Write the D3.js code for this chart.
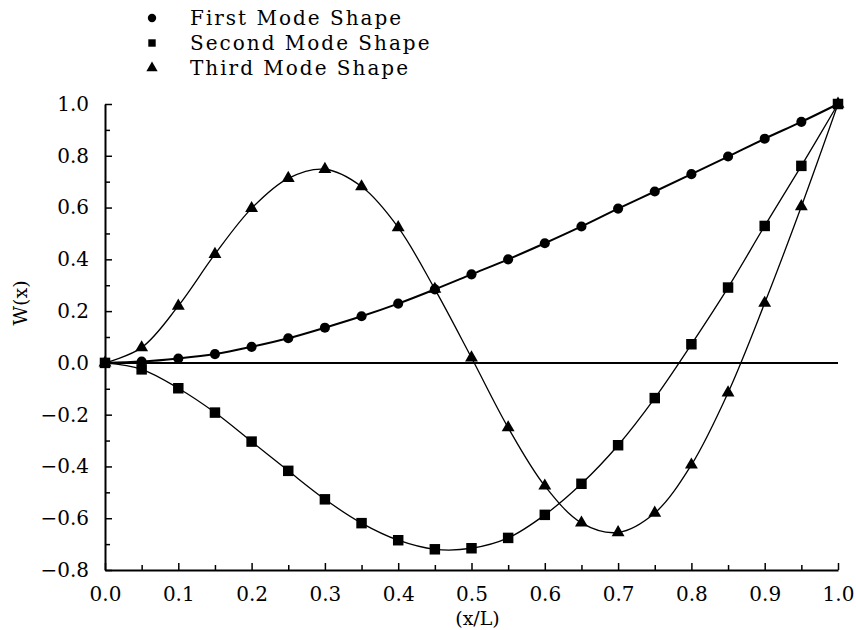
<!DOCTYPE html>
<html>
<head>
<meta charset="utf-8">
<script src="https://cdn.jsdelivr.net/npm/d3@7"></script>
<style>
  html, body { margin: 0; padding: 0; background: #fff; }
  svg { display: block; }
  text { font-family: "DejaVu Serif", serif; fill: #000; }
</style>
</head>
<body>
<svg id="chart" width="856" height="630"></svg>
<script>
// Normalised position along the beam
const positions = [0.00, 0.05, 0.10, 0.15, 0.20, 0.25, 0.30, 0.35, 0.40, 0.45, 0.50,
                   0.55, 0.60, 0.65, 0.70, 0.75, 0.80, 0.85, 0.90, 0.95, 1.00];

// Mode shape amplitudes W(x) at each position
const firstMode  = [0.000, 0.005, 0.017, 0.034, 0.062, 0.095, 0.136, 0.180, 0.229, 0.284, 0.342,
                    0.400, 0.462, 0.527, 0.596, 0.662, 0.729, 0.797, 0.866, 0.931, 1.000];
const secondMode = [0.000, -0.025, -0.098, -0.192, -0.304, -0.417, -0.527, -0.619, -0.685, -0.720, -0.716,
                    -0.676, -0.587, -0.467, -0.318, -0.136, 0.072, 0.291, 0.529, 0.761, 1.000];
const thirdMode  = [0.000, 0.059, 0.220, 0.420, 0.597, 0.713, 0.748, 0.681, 0.523, 0.285, 0.020,
                    -0.250, -0.475, -0.618, -0.655, -0.580, -0.394, -0.115, 0.231, 0.604, 1.000];

const seriesNames = ["First Mode Shape", "Second Mode Shape", "Third Mode Shape"];
const seriesSymbols = [d3.symbolCircle, d3.symbolSquare, d3.symbolTriangle];

// Axis ticks
const xMajorTicks = [0.0, 0.1, 0.2, 0.3, 0.4, 0.5, 0.6, 0.7, 0.8, 0.9, 1.0];
const xMinorTicks = [0.05, 0.15, 0.25, 0.35, 0.45, 0.55, 0.65, 0.75, 0.85, 0.95];
const yMajorTicks = [-0.8, -0.6, -0.4, -0.2, 0.0, 0.2, 0.4, 0.6, 0.8, 1.0];
const yMinorTicks = [-0.7, -0.5, -0.3, -0.1, 0.1, 0.3, 0.5, 0.7, 0.9];

const svg = d3.select("#chart");

const x = d3.scaleLinear().domain([0, 1]).range([105, 838]);
const y = d3.scaleLinear().domain([-0.8, 1.0]).range([570, 104]);

const fmt = d3.format(".1f");

// Bottom axis: ticks point inward (upward)
svg.append("g")
  .attr("transform", `translate(0,${y(-0.8)})`)
  .call(d3.axisBottom(x).tickValues(xMajorTicks).tickFormat(fmt)
        .tickSizeInner(-7).tickSizeOuter(0).tickPadding(17));
svg.append("g")
  .attr("transform", `translate(0,${y(-0.8)})`)
  .call(d3.axisBottom(x).tickValues(xMinorTicks).tickFormat("")
        .tickSizeInner(-5).tickSizeOuter(0))
  .call(g => g.select(".domain").remove());

// Left axis: ticks point inward (rightward)
svg.append("g")
  .attr("transform", `translate(${x(0)},0)`)
  .call(d3.axisLeft(y).tickValues(yMajorTicks).tickFormat(fmt)
        .tickSizeInner(-7).tickSizeOuter(0).tickPadding(16));
svg.append("g")
  .attr("transform", `translate(${x(0)},0)`)
  .call(d3.axisLeft(y).tickValues(yMinorTicks).tickFormat("")
        .tickSizeInner(-5).tickSizeOuter(0))
  .call(g => g.select(".domain").remove());

svg.selectAll(".domain").attr("stroke", "#000").attr("stroke-width", 2);
svg.selectAll(".tick line").attr("stroke", "#000").attr("stroke-width", 1.5);
svg.selectAll(".tick text").style("font-family", "DejaVu Serif").style("font-size", "20px").attr("fill", "#000");

// Zero reference line
svg.append("line")
  .attr("x1", x(0)).attr("x2", x(1))
  .attr("y1", y(0)).attr("y2", y(0))
  .attr("stroke", "#000").attr("stroke-width", 2);

// Axis titles
svg.append("text")
  .attr("x", (x(0) + x(1)) / 2 + 6).attr("y", 625)
  .attr("text-anchor", "middle")
  .style("font-size", "19px")
  .text("(x/L)");

svg.append("text")
  .attr("transform", `translate(27,${303}) rotate(-90)`)
  .attr("text-anchor", "middle")
  .style("font-size", "19px")
  .text("W(x)");

// Curves and markers
const allSeries = [firstMode, secondMode, thirdMode];
const lineWidths = [2, 1.3, 1.3];
const symbolSizes = [80, 110, 72];

const line = d3.line()
  .x((d, i) => x(positions[i]))
  .y(d => y(d))
  .curve(d3.curveCatmullRom.alpha(0.5));

// draw third, second, then first so circles sit on top
[2, 1, 0].forEach(k => {
  svg.append("path")
    .datum(allSeries[k])
    .attr("fill", "none")
    .attr("stroke", "#000")
    .attr("stroke-width", lineWidths[k])
    .attr("d", line);
});
[2, 1, 0].forEach(k => {
  svg.append("g").selectAll("path")
    .data(allSeries[k])
    .join("path")
    .attr("transform", (d, i) => `translate(${x(positions[i])},${y(d)})`)
    .attr("d", d3.symbol().type(seriesSymbols[k]).size(symbolSizes[k]))
    .attr("fill", "#000");
});

// Legend
const legend = svg.append("g");
seriesNames.forEach((name, k) => {
  const ly = 18 + k * 25;
  legend.append("path")
    .attr("transform", `translate(152,${ly})`)
    .attr("d", d3.symbol().type(seriesSymbols[k]).size(55))
    .attr("fill", "#000");
  legend.append("text")
    .attr("x", 190).attr("y", ly + 7)
    .style("font-size", "20px")
    .style("letter-spacing", "2px")
    .text(name);
});
</script>
</body>
</html>
